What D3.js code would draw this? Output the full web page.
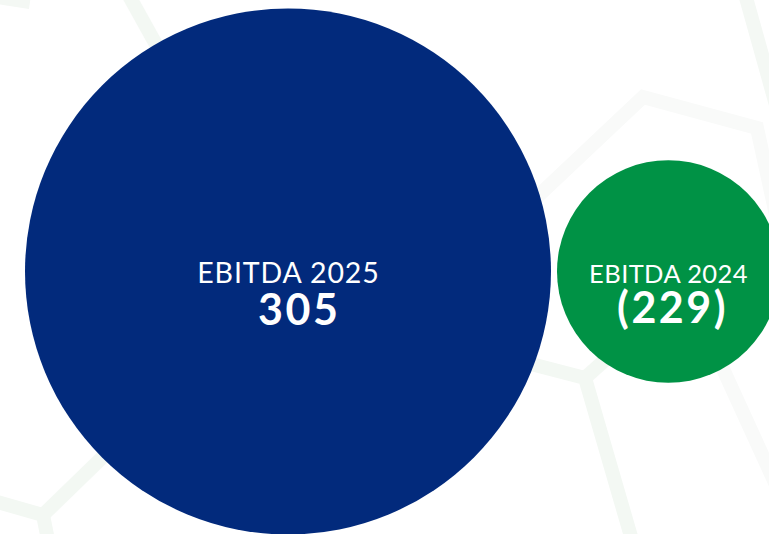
<!DOCTYPE html>
<html>
<head>
<meta charset="utf-8">
<script src="https://cdn.jsdelivr.net/npm/d3@7"></script>
<style>
html,body{margin:0;padding:0;background:#fff;overflow:hidden}
svg{display:block}
</style>
</head>
<body>
<svg id="chart" width="769" height="534"></svg>
<script>
const labels = ["EBITDA 2025", "EBITDA 2024"];
const values = [305, 229];
const valueLabels = ["305", "(229)"];
const colors = ["#022a7c", "#009245"];

const W = 769, H = 534;
const svg = d3.select("#chart");

// faint decorative background bands
const bands = [
  {d: "M-10,-4 L30,2", c: "#f4f8f4"},
  {d: "M128,-6 L168,66", c: "#f3f8f3"},
  {d: "M500,232 L643,97 L757,128 L776,215", c: "#f9faf9"},
  {d: "M470,348 L585,378 L632,540", c: "#f3f8f3"},
  {d: "M585,378 L625,342", c: "#f3f8f3"},
  {d: "M718,358 L776,485", c: "#f9faf9"},
  {d: "M745,-6 L776,105", c: "#f4f8f4"},
  {d: "M-10,500 L43,515 L48,540", c: "#f3f8f3"},
  {d: "M43,515 L112,448", c: "#f3f8f3"}
];
svg.append("g").selectAll("path").data(bands).join("path")
  .attr("d", d => d.d).attr("fill", "none")
  .attr("stroke", d => d.c).attr("stroke-width", 14)
  .attr("stroke-linejoin", "miter");

const r = d3.scalePow().exponent(3).domain([0, d3.max(values)]).range([0, 263]);
const gap = 6, cy = 271.5, startX = 25;
let x = startX;
const nodes = values.map((v, i) => {
  const rad = r(v);
  const cx = x + rad;
  x = cx + rad + gap;
  return {v, i, rad, cx};
});

const g = svg.append("g").selectAll("g").data(nodes).join("g")
  .attr("transform", d => `translate(${d.cx},${cy})`);
g.append("circle").attr("r", d => d.rad).attr("fill", d => colors[d.i]);

const lblSize = [28.5, 25.5], lblLs = [0.9, 0.4];
const valSize = [43, 43], valLs = [2.5, 2.5], valDx = [10, 3];
g.append("text")
  .attr("text-anchor", "middle")
  .attr("x", d => lblLs[d.i] / 2)
  .attr("y", 11)
  .attr("fill", "#fff")
  .style("font-family", "Lato, sans-serif")
  .style("font-size", d => lblSize[d.i] + "px")
  .style("letter-spacing", d => lblLs[d.i] + "px")
  .text(d => labels[d.i]);
g.append("text")
  .attr("text-anchor", "middle")
  .attr("x", d => valDx[d.i] + valLs[d.i] / 2)
  .attr("y", d => d.i === 0 ? 53.5 : 51)
  .attr("fill", "#fff")
  .style("font-family", "Lato, sans-serif")
  .style("font-weight", "bold")
  .style("font-size", d => valSize[d.i] + "px")
  .style("letter-spacing", d => valLs[d.i] + "px")
  .text(d => valueLabels[d.i]);
</script>
</body>
</html>
